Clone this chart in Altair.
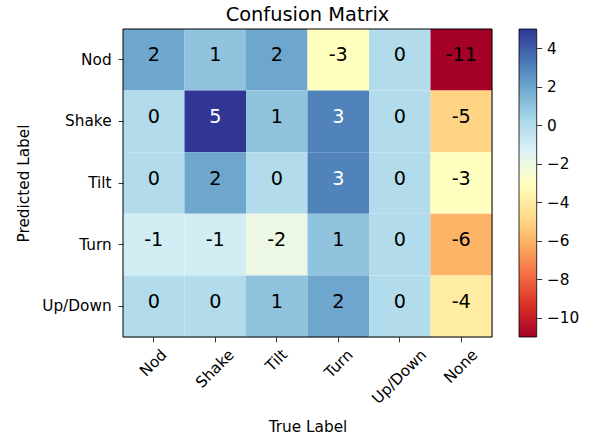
import altair as alt
import pandas as pd

# Gesture classes: columns are the true labels, rows the predicted labels
true_labels = ["Nod", "Shake", "Tilt", "Turn", "Up/Down", "None"]
pred_labels = ["Nod", "Shake", "Tilt", "Turn", "Up/Down"]

row_nod = [2, 1, 2, -3, 0, -11]
row_shake = [0, 5, 1, 3, 0, -5]
row_tilt = [0, 2, 0, 3, 0, -3]
row_turn = [-1, -1, -2, 1, 0, -6]
row_updown = [0, 0, 1, 2, 0, -4]

colorbar_ticks = [4, 2, 0, -2, -4, -6, -8, -10]

# RdYlBu colormap stops (red = low, blue = high)
rdylbu = ["#a50026", "#d73027", "#f46d43", "#fdae61", "#fee090", "#ffffbf",
          "#e0f3f8", "#abd9e9", "#74add1", "#4575b4", "#313695"]

rows = [row_nod, row_shake, row_tilt, row_turn, row_updown]
records = []
for pred, vals in zip(pred_labels, rows):
    for true, v in zip(true_labels, vals):
        records.append({"true": true, "pred": pred, "v": v})
df = pd.DataFrame(records)

vmin = min(min(r) for r in rows)
vmax = max(max(r) for r in rows)
color_domain = [vmin + (vmax - vmin) * i / (len(rdylbu) - 1) for i in range(len(rdylbu))]

FONT = "DejaVu Sans"
W, H = 369, 308
PAD_L, PAD_T = 123, 29
TICK = 4.9
LABEL_FS = 15.3

# Rotated tick labels are centred on their tick by the bounding box of the
# rotated text; shift the right-aligned labels accordingly using glyph widths.
glyph_em = {"N": .748, "o": .612, "d": .635, "S": .635, "h": .634, "a": .613,
            "k": .579, "e": .615, "T": .611, "i": .278, "l": .278, "t": .392,
            "u": .634, "r": .411, "n": .634, "U": .732, "p": .635, "/": .337,
            "D": .770, "w": .818}
text_h = 0.996 * LABEL_FS
expr = "0"
for lab in reversed(true_labels):
    w = sum(glyph_em.get(c, 0.6) for c in lab) * LABEL_FS
    off = round(0.3536 * (w - text_h), 2)
    expr = f"datum.label === '{lab}' ? {off} : ({expr})"

x_enc = alt.X(
    "true:N", sort=true_labels,
    scale=alt.Scale(paddingInner=0, paddingOuter=0),
    axis=alt.Axis(
        title="True Label", labelAngle=-45, labelAlign="right", labelBaseline="top",
        labelPadding=4.9, labelOffset={"expr": expr}, labelOverlap=False,
        tickSize=TICK, tickWidth=0.8, tickColor="black", domain=False,
        labelFont=FONT, labelFontSize=LABEL_FS, labelColor="black",
        titleFont=FONT, titleFontSize=LABEL_FS, titleFontWeight="normal", titleColor="black",
        titleX=W / 2, titleY=94.7, titleBaseline="alphabetic", titleAlign="center",
    ),
)
y_enc = alt.Y(
    "pred:N", sort=pred_labels,
    scale=alt.Scale(paddingInner=0, paddingOuter=0),
    axis=alt.Axis(
        title="Predicted Label", labelPadding=7, tickSize=TICK, tickWidth=0.8,
        tickColor="black", domain=False, labelFont=FONT, labelFontSize=LABEL_FS,
        labelColor="black", titleFont=FONT, titleFontSize=LABEL_FS,
        titleFontWeight="normal", titleColor="black", titleAngle=-90,
        titleX=-94.7, titleY=H / 2, titleBaseline="alphabetic", titleAlign="center",
    ),
)

heat = alt.Chart(df).mark_rect(strokeWidth=0).encode(
    x=x_enc,
    y=y_enc,
    color=alt.Color("v:Q", legend=None,
                    scale=alt.Scale(domain=color_domain, range=rdylbu, interpolate="rgb")),
)

# Cell annotations, written with a plain hyphen for negatives
labels = alt.Chart(df).transform_calculate(
    txt="toString(datum.v)"
).mark_text(
    font=FONT, fontSize=19.2, baseline="alphabetic", dy=1.5
).encode(
    x=x_enc,
    y=y_enc,
    text="txt:N",
    color=alt.condition("datum.v > 2.5", alt.value("white"), alt.value("black")),
)

# Black frame around the matrix
cbar_df = pd.DataFrame({"lo": [vmin], "hi": [vmax]})
frame = alt.Chart(cbar_df).mark_rect(filled=False, stroke="black", strokeWidth=1).encode(
    x=alt.value(0), x2=alt.value(W), y=alt.value(0), y2=alt.value(H),
)

# Chart title, centred above the matrix
title = alt.Chart(cbar_df).mark_text(
    text="Confusion Matrix", font=FONT, fontSize=19.4, color="black",
    align="center", baseline="alphabetic",
).encode(x=alt.value(W / 2), y=alt.value(-8.3))

matrix = alt.layer(heat, labels, frame, title)

# Colour bar: one rect spanning the data range, filled with the colormap
gradient = alt.LinearGradient(
    gradient="linear",
    stops=[alt.GradientStop(color=c, offset=i / (len(rdylbu) - 1)) for i, c in enumerate(rdylbu)],
    x1=0, x2=0, y1=1, y2=0,
)
cbar = alt.Chart(cbar_df).mark_rect(fill=gradient, stroke="black", strokeWidth=0.8).encode(
    x=alt.value(396),
    x2=alt.value(413.7),
    y=alt.Y("lo:Q", scale=alt.Scale(domain=[vmin, vmax], nice=False, zero=False),
            axis=alt.Axis(orient="right", offset=413.7 - W, values=colorbar_ticks,
                          labelExpr="replace(datum.label, '-', '\u2212')",
                          title=None, grid=False, domain=False, tickSize=TICK,
                          tickWidth=0.8, tickColor="black", labelPadding=4.9,
                          labelFont=FONT, labelFontSize=LABEL_FS, labelColor="black")),
    y2="hi:Q",
)

chart = (
    alt.layer(matrix, cbar)
    .resolve_scale(y="independent")
    .resolve_axis(y="independent")
    .properties(
        width=W, height=H,
        autosize=alt.AutoSizeParams(type="none"),
        padding={"left": PAD_L, "top": PAD_T, "right": 600 - PAD_L - W, "bottom": 441 - PAD_T - H},
    )
    .configure_view(stroke=None)
    .configure(background="white")
)

chart.save("out.html", embed_options={"renderer": "svg", "actions": False})
